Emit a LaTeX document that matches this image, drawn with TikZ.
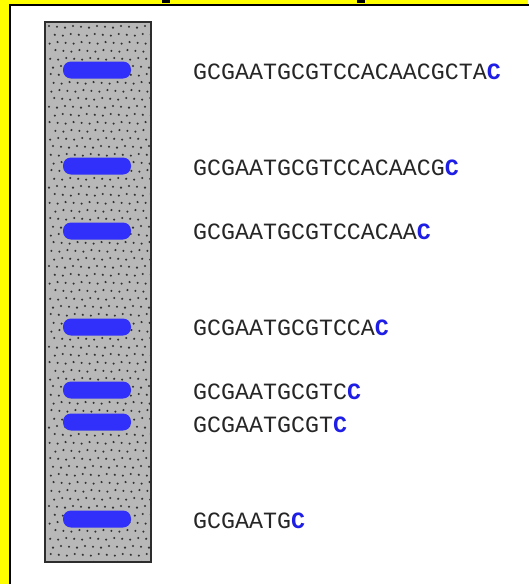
\documentclass[tikz,border=0pt]{standalone}
\usepackage{fontspec}
\setmonofont{Liberation Mono}
\usetikzlibrary{calc}
\definecolor{bgyellow}{RGB}{255,255,0}
\definecolor{gelgray}{RGB}{184,184,184}
\definecolor{gelborder}{RGB}{45,45,45}
\definecolor{dotcol}{RGB}{50,50,50}
\definecolor{bandblue}{RGB}{48,48,250}
\definecolor{cblue}{RGB}{30,30,230}
\tikzset{
  band/.style={fill=bandblue, draw=none, rounded corners=8pt, minimum width=68pt, minimum height=17pt, inner sep=0pt},
  seq/.style={anchor=west, inner sep=0pt, font=\fontsize{23.3}{25}\ttfamily, text=black!85},
}
\newcommand{\lastc}{\textcolor{cblue}{\bfseries C}}
\begin{document}
\begin{tikzpicture}[x=1pt,y=-1pt]
\useasboundingbox (0,0) rectangle (528,584);
% background
\fill[bgyellow] (0,0) rectangle (528,584);
\fill[white] (10,5) rectangle (530,590);
\draw[black, line width=2pt] (10,590) -- (10,5) -- (530,5);
% cut-off title fragments
\fill[black] (162,0) rectangle (170,3);
\fill[black] (357,0) rectangle (365,3);
% gel
\node[fill=gelgray, draw=none, minimum width=106pt, minimum height=540pt, inner sep=0pt, anchor=north west] (gel) at (45,22) {};
\begin{scope}
\clip (45,22) rectangle (151,562);
\foreach \r in {0,...,68} {
  \pgfmathsetmacro{\yy}{26+8*\r}
  \pgfmathsetmacro{\off}{mod(\r,2)*4 + mod(\r*3,5)*0.6}
  \foreach \c in {0,...,13} {
    \fill[dotcol] ({49+\off+8*\c}, {\yy + mod(\c*7+\r,3)*0.8}) circle (1.15pt);
  }
}
\end{scope}
\draw[gelborder, line width=2pt] (gel.north west) rectangle (gel.south east);
% bands
\node[band] (b1) at (97,70) {};
\node[band] (b2) at (97,166) {};
\node[band] (b3) at (97,231) {};
\node[band] (b4) at (97,327) {};
\node[band] (b5) at (97,390) {};
\node[band] (b6) at (97,422) {};
\node[band] (b7) at (97,519) {};
% sequences
\node[seq] (s1) at (193,72) {GCGAATGCGTCCACAACGCTA\lastc};
\node[seq] (s2) at (193,168) {GCGAATGCGTCCACAACG\lastc};
\node[seq] (s3) at (193,232) {GCGAATGCGTCCACAA\lastc};
\node[seq] (s4) at (193,328) {GCGAATGCGTCCA\lastc};
\node[seq] (s5) at (193,392) {GCGAATGCGTC\lastc};
\node[seq] (s6) at (193,425) {GCGAATGCGT\lastc};
\node[seq] (s7) at (193,521) {GCGAATG\lastc};
\end{tikzpicture}
\end{document}
